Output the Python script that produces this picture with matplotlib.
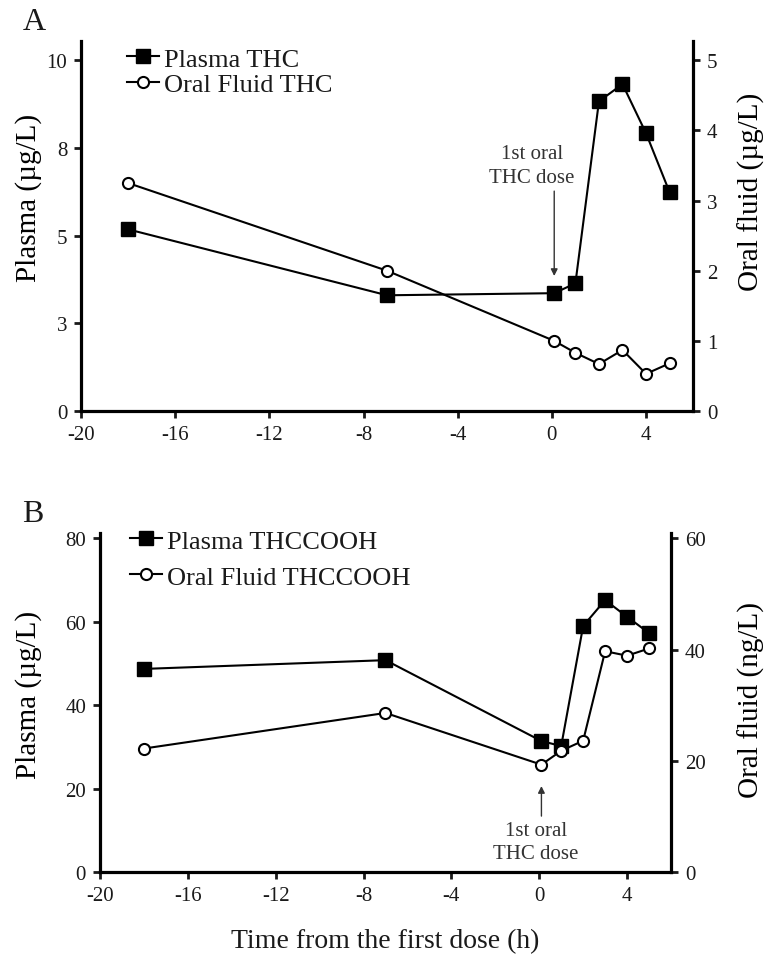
import matplotlib
matplotlib.use("Agg")
import matplotlib.pyplot as plt

plt.rcParams['font.family'] = ['Liberation Serif', 'DejaVu Serif']
plt.rcParams['text.color'] = '#1a1a1a'

# time from first dose (h)
time_h = [-18, -7, 0.1, 1, 2, 3, 4, 5]

# panel A
plasma_thc = [5.18, 3.30, 3.36, 3.64, 8.83, 9.32, 7.92, 6.24]
oral_thc = [3.25, 2.0, 1.0, 0.83, 0.67, 0.87, 0.53, 0.68]

# panel B
plasma_thccooh = [48.7, 50.8, 31.4, 30.2, 59.0, 65.2, 61.2, 57.3]
oral_thccooh = [22.2, 28.6, 19.3, 21.8, 23.6, 39.7, 38.9, 40.2]

x_ticks = [-20, -16, -12, -8, -4, 0, 4]
a_left_ticks = [0, 2.5, 5, 7.5, 10]
a_left_labels = ['0', '3', '5', '8', '10']
a_right_ticks = [0, 1, 2, 3, 4, 5]
b_left_ticks = [0, 20, 40, 60, 80]
b_right_ticks = [0, 20, 40, 60]

LW = 1.5
SPINE_W = 2.3


def style_axes(ax, right=False):
    ax.spines['top'].set_visible(False)
    if right:
        ax.spines['left'].set_visible(False)
        ax.spines['bottom'].set_visible(False)
        ax.spines['right'].set_linewidth(SPINE_W)
    else:
        ax.spines['right'].set_visible(False)
        ax.spines['left'].set_linewidth(SPINE_W)
        ax.spines['bottom'].set_linewidth(SPINE_W)
    ax.tick_params(direction='out', length=5, width=2, pad=5,
                   labelsize=15, colors='#1a1a1a')


def panel(rect, plasma, oral, ylim_left, ylim_right, lticks, lticklabels,
          rticks, lab_plasma, lab_oral, right_unit, lcoords, rcoords):
    ax = fig.add_axes(rect)
    ax2 = ax.twinx()
    style_axes(ax)
    style_axes(ax2, right=True)
    ax.set_xlim(-20, 6)
    ax.set_ylim(*ylim_left)
    ax2.set_ylim(*ylim_right)
    ax.set_xticks(x_ticks)
    ax.set_xticklabels([str(t) for t in x_ticks])
    ax.set_yticks(lticks)
    ax.set_yticklabels(lticklabels)
    ax2.set_yticks(rticks)
    ax2.set_yticklabels([str(t) for t in rticks])

    l1, = ax.plot(time_h, plasma, color='black', lw=LW, marker='s', ms=9.5,
                  mfc='black', mec='black', label=lab_plasma, zorder=3)
    l2, = ax2.plot(time_h, oral, color='black', lw=LW, marker='o', ms=8,
                   mfc='white', mec='black', mew=1.5, label=lab_oral, zorder=3)

    ax.set_ylabel('Plasma (µg/L)', fontsize=21)
    ax.yaxis.set_label_coords(*lcoords)
    ax2.set_ylabel('Oral fluid (%s)' % right_unit, fontsize=21)
    ax2.yaxis.set_label_coords(*rcoords)
    return ax, ax2, l1, l2


fig = plt.figure(figsize=(7.68, 9.78), dpi=100)

# Panel A
axA, axA2, a1, a2 = panel([0.1055, 0.5787, 0.797, 0.378], plasma_thc, oral_thc,
                          (0, 10.54), (0, 5.27), a_left_ticks, a_left_labels,
                          a_right_ticks, 'Plasma THC', 'Oral Fluid THC', 'µg/L',
                          (-0.064, 0.58), (1.0735, 0.595))
axA.legend([a1, a2], ['Plasma THC', 'Oral Fluid THC'], loc='upper left',
           bbox_to_anchor=(0.075, 0.984), frameon=False, fontsize=19,
           handlelength=1.2, handletextpad=0.2, borderpad=0,
           borderaxespad=0, labelspacing=0.08, numpoints=1)
axA.text(-0.85, 7.0, '1st oral\nTHC dose', ha='center', va='center',
         fontsize=15, color='#333333', linespacing=1.3)
axA.annotate('', xy=(0.1, 3.85), xytext=(0.1, 6.27),
             arrowprops=dict(arrowstyle='-|>', color='#333333', lw=1,
                             mutation_scale=10, shrinkA=0, shrinkB=0))
fig.text(34 / 768, 1 - 22 / 978, 'A', fontsize=23, ha='center', va='center')

# Panel B
axB, axB2, b1, b2 = panel([0.1302, 0.1074, 0.7435, 0.3466], plasma_thccooh,
                          oral_thccooh, (0, 81.3), (0, 60.97), b_left_ticks,
                          [str(t) for t in b_left_ticks], b_right_ticks,
                          'Plasma THCCOOH', 'Oral Fluid THCCOOH', 'ng/L',
                          (-0.1016, 0.525), (1.117, 0.51))
axB.legend([b1, b2], ['Plasma THCCOOH', 'Oral Fluid THCCOOH'],
           loc='upper left', bbox_to_anchor=(0.0525, 1.011), frameon=False,
           fontsize=19, handlelength=1.2, handletextpad=0.2, borderpad=0,
           borderaxespad=0, labelspacing=0.47, numpoints=1)
axB.text(-0.14, 7.2, '1st oral\nTHC dose', ha='center', va='center',
         fontsize=15, color='#333333', linespacing=1.3)
axB.annotate('', xy=(0.1, 20.6), xytext=(0.1, 13.4),
             arrowprops=dict(arrowstyle='-|>', color='#333333', lw=1,
                             mutation_scale=10, shrinkA=0, shrinkB=0))
fig.text(33 / 768, 1 - 515 / 978, 'B', fontsize=23, ha='center', va='center')

fig.text(385 / 768, 1 - 942 / 978, 'Time from the first dose (h)', fontsize=20,
         ha='center', va='center')

fig.savefig('out.png', dpi=100)
